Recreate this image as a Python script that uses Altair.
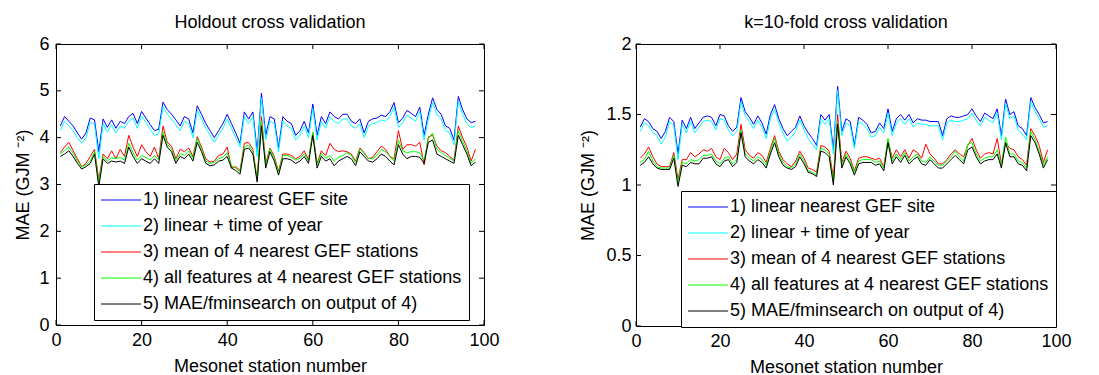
import altair as alt
import pandas as pd

stations = list(range(1, 99))
series_names = [
    "1) linear nearest GEF site",
    "2) linear + time of year",
    "3) mean of 4 nearest GEF stations",
    "4) all features at 4 nearest GEF stations",
    "5) MAE/fminsearch on output of 4)",
]
series_colors = ["#0000ff", "#00ffff", "#ff0000", "#00ff00", "#000000"]

# ---- Holdout cross validation ----
L1 = [4.25, 4.45, 4.35, 4.25, 4.1, 3.97, 4.1, 4.42, 4.38, 3.7,
      4.4, 4.22, 4.38, 4.2, 4.35, 4.3, 4.45, 4.52, 4.3, 4.56,
      4.42, 4.28, 4.15, 4.18, 4.76, 4.6, 4.5, 4.38, 4.25, 4.45,
      4.4, 4.1, 4.68, 4.5, 4.3, 4.15, 4.0, 4.15, 4.3, 4.5,
      4.3, 4.1, 3.88, 4.55, 4.4, 4.55, 3.7, 4.95, 4.05, 4.45,
      4.4, 3.78, 4.45, 4.35, 4.3, 4.05, 4.15, 4.35, 4.1, 4.72,
      4.05, 4.45, 4.3, 4.55, 4.45, 4.4, 4.5, 4.5, 4.35, 4.3,
      4.4, 4.1, 4.35, 4.4, 4.42, 4.48, 4.45, 4.55, 4.75, 4.32,
      4.42, 4.58, 4.52, 4.45, 4.65, 4.05, 4.5, 4.85, 4.6, 4.5,
      4.25, 4.2, 3.95, 4.88, 4.6, 4.4, 4.32, 4.35]
L2 = [4.15, 4.35, 4.25, 4.15, 4.0, 3.88, 4.0, 4.33, 4.28, 3.55,
      4.3, 4.12, 4.28, 4.1, 4.25, 4.2, 4.35, 4.42, 4.2, 4.46,
      4.33, 4.18, 4.05, 4.08, 4.66, 4.5, 4.4, 4.28, 4.15, 4.35,
      4.3, 4.0, 4.58, 4.4, 4.2, 4.05, 3.9, 4.05, 4.2, 4.4,
      4.2, 4.0, 3.8, 4.45, 4.3, 4.45, 3.6, 4.85, 3.95, 4.35,
      4.3, 3.7, 4.35, 4.25, 4.2, 3.95, 4.05, 4.25, 4.0, 4.62,
      3.95, 4.35, 4.2, 4.45, 4.35, 4.3, 4.4, 4.4, 4.25, 4.2,
      4.3, 4.0, 4.25, 4.3, 4.32, 4.38, 4.35, 4.45, 4.65, 4.22,
      4.32, 4.48, 4.42, 4.35, 4.55, 3.95, 4.4, 4.75, 4.5, 4.4,
      4.15, 4.1, 3.85, 4.78, 4.5, 4.3, 4.22, 4.25]
L3 = [3.68, 3.8, 3.9, 3.72, 3.55, 3.38, 3.45, 3.6, 3.75, 3.1,
      3.65, 3.55, 3.72, 3.55, 3.75, 3.6, 4.05, 3.8, 3.6, 3.85,
      3.7, 3.6, 3.8, 3.55, 4.25, 3.9, 3.82, 3.55, 3.75, 3.7,
      3.78, 3.6, 4.02, 3.8, 3.55, 3.48, 3.5, 3.62, 3.65, 3.8,
      3.35, 3.38, 3.3, 3.88, 3.9, 3.75, 3.1, 4.45, 3.45, 3.78,
      3.6, 3.28, 3.65, 3.65, 3.62, 3.55, 3.6, 3.72, 3.52, 4.1,
      3.45, 3.72, 3.62, 3.88, 3.75, 3.7, 3.72, 3.7, 3.65, 3.5,
      3.78, 3.68, 3.55, 3.58, 3.7, 3.82, 3.75, 3.6, 3.55, 4.15,
      3.75, 3.85, 3.85, 3.82, 3.9, 3.42, 4.02, 4.05, 3.82, 3.72,
      3.68, 3.6, 3.52, 4.25, 4.0, 3.8, 3.5, 3.75]
L4 = [3.65, 3.72, 3.8, 3.67, 3.5, 3.37, 3.42, 3.5, 3.7, 3.05,
      3.6, 3.5, 3.57, 3.55, 3.58, 3.52, 3.88, 3.68, 3.52, 3.62,
      3.58, 3.52, 3.62, 3.52, 4.12, 3.86, 3.76, 3.5, 3.66, 3.62,
      3.72, 3.56, 3.98, 3.76, 3.5, 3.45, 3.47, 3.56, 3.58, 3.68,
      3.4, 3.35, 3.27, 3.8, 3.84, 3.7, 3.1, 4.35, 3.42, 3.76,
      3.56, 3.25, 3.62, 3.62, 3.58, 3.52, 3.56, 3.66, 3.5, 4.12,
      3.42, 3.66, 3.56, 3.62, 3.5, 3.58, 3.62, 3.68, 3.62, 3.47,
      3.76, 3.66, 3.56, 3.55, 3.62, 3.75, 3.7, 3.6, 3.5, 3.95,
      3.72, 3.68, 3.7, 3.7, 3.68, 3.52, 3.98, 4.1, 3.75, 3.68,
      3.62, 3.56, 3.5, 4.15, 3.92, 3.72, 3.45, 3.55]
L5 = [3.6, 3.65, 3.72, 3.6, 3.45, 3.33, 3.38, 3.45, 3.65, 2.95,
      3.55, 3.45, 3.5, 3.48, 3.5, 3.45, 3.8, 3.6, 3.45, 3.55,
      3.5, 3.45, 3.55, 3.45, 4.05, 3.8, 3.7, 3.45, 3.6, 3.55,
      3.65, 3.5, 3.9, 3.7, 3.45, 3.4, 3.42, 3.5, 3.52, 3.6,
      3.35, 3.3, 3.22, 3.75, 3.78, 3.65, 3.05, 4.25, 3.35, 3.7,
      3.5, 3.2, 3.55, 3.55, 3.52, 3.45, 3.5, 3.6, 3.45, 4.05,
      3.35, 3.6, 3.5, 3.55, 3.4, 3.5, 3.55, 3.6, 3.55, 3.4,
      3.7, 3.6, 3.5, 3.48, 3.55, 3.65, 3.6, 3.5, 3.42, 3.85,
      3.65, 3.55, 3.6, 3.6, 3.58, 3.45, 3.9, 3.95, 3.65, 3.6,
      3.55, 3.5, 3.45, 4.05, 3.85, 3.65, 3.4, 3.48]

# ---- k=10-fold cross validation ----
R1 = [1.41, 1.47, 1.45, 1.4, 1.38, 1.33, 1.38, 1.48, 1.45, 1.22,
      1.46, 1.4, 1.48, 1.4, 1.44, 1.48, 1.49, 1.48, 1.42, 1.5,
      1.49, 1.42, 1.38, 1.41, 1.62, 1.52, 1.48, 1.43, 1.49, 1.44,
      1.36, 1.5, 1.57, 1.47, 1.4, 1.35, 1.38, 1.41, 1.49, 1.42,
      1.37, 1.33, 1.28, 1.5, 1.46, 1.5, 1.25, 1.7, 1.38, 1.47,
      1.45, 1.28, 1.48, 1.46, 1.43, 1.37, 1.38, 1.44, 1.4, 1.54,
      1.38, 1.47, 1.5, 1.46, 1.5, 1.44, 1.47, 1.46, 1.46, 1.45,
      1.45, 1.45, 1.35, 1.47, 1.49, 1.48, 1.48, 1.49, 1.5, 1.54,
      1.49, 1.45, 1.51, 1.49, 1.47, 1.54, 1.35, 1.61, 1.5, 1.52,
      1.42, 1.4, 1.35, 1.62, 1.55, 1.5, 1.44, 1.45]
R2 = [1.38, 1.44, 1.42, 1.37, 1.35, 1.29, 1.34, 1.45, 1.42, 1.18,
      1.43, 1.37, 1.45, 1.37, 1.41, 1.45, 1.46, 1.45, 1.39, 1.47,
      1.46, 1.39, 1.35, 1.38, 1.59, 1.49, 1.45, 1.4, 1.46, 1.41,
      1.33, 1.47, 1.54, 1.44, 1.37, 1.31, 1.34, 1.38, 1.46, 1.39,
      1.33, 1.29, 1.25, 1.47, 1.43, 1.47, 1.22, 1.67, 1.35, 1.44,
      1.42, 1.26, 1.45, 1.43, 1.4, 1.34, 1.35, 1.41, 1.37, 1.51,
      1.35, 1.44, 1.47, 1.43, 1.47, 1.41, 1.44, 1.43, 1.43, 1.42,
      1.42, 1.42, 1.32, 1.44, 1.46, 1.45, 1.45, 1.46, 1.47, 1.51,
      1.46, 1.42, 1.48, 1.46, 1.44, 1.51, 1.32, 1.58, 1.47, 1.49,
      1.39, 1.36, 1.32, 1.59, 1.52, 1.47, 1.41, 1.42]
R3 = [1.19, 1.22, 1.27, 1.2, 1.15, 1.13, 1.13, 1.13, 1.23, 1.04,
      1.18, 1.18, 1.23, 1.2, 1.22, 1.25, 1.24, 1.26, 1.2, 1.18,
      1.26, 1.23, 1.18, 1.22, 1.43, 1.25, 1.21, 1.19, 1.23, 1.21,
      1.16, 1.26, 1.35, 1.24, 1.18, 1.15, 1.13, 1.17, 1.24, 1.19,
      1.12, 1.11, 1.09, 1.28, 1.27, 1.24, 1.05, 1.5, 1.16, 1.24,
      1.19, 1.1, 1.19, 1.2, 1.2, 1.19, 1.18, 1.19, 1.13, 1.32,
      1.19, 1.25, 1.2, 1.25, 1.19, 1.25, 1.23, 1.19, 1.29, 1.22,
      1.19, 1.15, 1.15, 1.18, 1.22, 1.25, 1.22, 1.2, 1.28, 1.33,
      1.25, 1.19, 1.22, 1.23, 1.22, 1.33, 1.15, 1.3, 1.26, 1.25,
      1.2, 1.18, 1.14, 1.4, 1.35, 1.28, 1.16, 1.25]
R4 = [1.16, 1.18, 1.24, 1.17, 1.13, 1.12, 1.12, 1.12, 1.21, 1.02,
      1.16, 1.15, 1.18, 1.17, 1.18, 1.21, 1.21, 1.22, 1.17, 1.15,
      1.19, 1.2, 1.15, 1.18, 1.39, 1.22, 1.19, 1.17, 1.2, 1.18,
      1.14, 1.24, 1.33, 1.22, 1.16, 1.13, 1.12, 1.15, 1.22, 1.17,
      1.1, 1.09, 1.07, 1.26, 1.25, 1.22, 1.02, 1.45, 1.14, 1.22,
      1.17, 1.09, 1.17, 1.18, 1.18, 1.18, 1.16, 1.17, 1.12, 1.33,
      1.17, 1.22, 1.18, 1.23, 1.17, 1.2, 1.22, 1.17, 1.16, 1.2,
      1.17, 1.14, 1.14, 1.17, 1.2, 1.24, 1.2, 1.17, 1.29, 1.3,
      1.22, 1.17, 1.19, 1.2, 1.2, 1.25, 1.14, 1.34, 1.22, 1.22,
      1.17, 1.16, 1.12, 1.38, 1.32, 1.24, 1.14, 1.2]
R5 = [1.14, 1.16, 1.2, 1.15, 1.12, 1.11, 1.11, 1.11, 1.19, 0.99,
      1.14, 1.13, 1.16, 1.15, 1.15, 1.19, 1.19, 1.2, 1.15, 1.13,
      1.17, 1.18, 1.13, 1.16, 1.37, 1.2, 1.17, 1.15, 1.18, 1.16,
      1.12, 1.22, 1.3, 1.2, 1.14, 1.12, 1.11, 1.13, 1.2, 1.15,
      1.09, 1.08, 1.06, 1.24, 1.23, 1.2, 1.0, 1.43, 1.12, 1.2,
      1.15, 1.07, 1.15, 1.16, 1.16, 1.16, 1.14, 1.15, 1.1, 1.3,
      1.15, 1.2, 1.16, 1.21, 1.15, 1.18, 1.2, 1.15, 1.14, 1.18,
      1.15, 1.12, 1.12, 1.15, 1.18, 1.21, 1.18, 1.15, 1.25, 1.27,
      1.2, 1.15, 1.17, 1.18, 1.18, 1.22, 1.12, 1.3, 1.2, 1.2,
      1.15, 1.14, 1.1, 1.35, 1.3, 1.22, 1.12, 1.18]

x_ticks = [0, 20, 40, 60, 80, 100]
y_ticks_left = [0, 1, 2, 3, 4, 5, 6]
y_ticks_right = [0, 0.5, 1, 1.5, 2]

FONT = "Liberation Sans"
FS = 18
TK = 5


def long_df(series_lists):
    rows = []
    for name, vals in zip(series_names, series_lists):
        for s, v in zip(stations, vals):
            rows.append({"station": s, "series": name, "value": v})
    return pd.DataFrame(rows)


def panel(df, title, ydomain, yticks, W, H, lx, ly, lab_pad, tit_pad):
    xs = alt.Scale(domain=[0, 100], nice=False, zero=False)
    ys = alt.Scale(domain=ydomain, nice=False, zero=False)
    xax = alt.Axis(values=x_ticks, title="Mesonet station number",
                   labelPadding=6, titlePadding=8, format="~r")
    yax = alt.Axis(values=yticks, title="MAE (GJM ⁻²)",
                   labelPadding=lab_pad, titlePadding=tit_pad, format="~r")
    lines = alt.Chart(df).mark_line(strokeWidth=1, clip=True).encode(
        x=alt.X("station:Q", scale=xs, axis=xax),
        y=alt.Y("value:Q", scale=ys, axis=yax),
        color=alt.Color("series:N",
                        scale=alt.Scale(domain=series_names, range=series_colors),
                        legend=alt.Legend(orient="none", legendX=lx, legendY=ly,
                                          title=None, strokeColor="black",
                                          fillColor="white", padding=7,
                                          symbolType="M-4,0L4,0", symbolSize=100,
                                          symbolStrokeWidth=1, symbolOffset=11,
                                          labelFont=FONT, labelFontSize=FS,
                                          labelColor="black", labelLimit=0,
                                          labelOffset=13, rowPadding=8,
                                          cornerRadius=0)),
    )
    xt = pd.DataFrame({"station": x_ticks})
    yt = pd.DataFrame({"value": yticks})
    rule = dict(color="black", strokeWidth=1)
    bx1 = alt.Chart(xt).mark_rule(**rule).encode(
        x=alt.X("station:Q", scale=xs, axis=xax), y=alt.value(H), y2=alt.value(H - TK))
    bx2 = alt.Chart(xt).mark_rule(**rule).encode(
        x=alt.X("station:Q", scale=xs, axis=xax), y=alt.value(0), y2=alt.value(TK))
    by1 = alt.Chart(yt).mark_rule(**rule).encode(
        y=alt.Y("value:Q", scale=ys, axis=yax), x=alt.value(0), x2=alt.value(TK))
    by2 = alt.Chart(yt).mark_rule(**rule).encode(
        y=alt.Y("value:Q", scale=ys, axis=yax), x=alt.value(W - TK), x2=alt.value(W))
    return alt.layer(lines, bx1, bx2, by1, by2).properties(
        width=W, height=H,
        title=alt.TitleParams(title, baseline="alphabetic", offset=-11,
                              font=FONT, fontSize=FS, fontWeight="normal",
                              color="black"))


left = panel(long_df([L1, L2, L3, L4, L5]), "Holdout cross validation",
             [0, 6], y_ticks_left, 428, 281, 38, 140, 7, 6)
right = panel(long_df([R1, R2, R3, R4, R5]), "k=10-fold cross validation",
              [0, 2], y_ticks_right, 420, 282, 45, 147, 5, 8)

chart = alt.hconcat(left, right, spacing=79).resolve_scale(
    x="independent", y="independent", color="independent"
).resolve_legend(color="independent").properties(
    padding={"left": 6, "top": 5, "right": 5, "bottom": 0},
    background="white",
).configure(font=FONT).configure_view(
    stroke="black", strokeWidth=1
).configure_axis(
    grid=False, domain=False, ticks=False, labelFont=FONT, titleFont=FONT,
    labelFontSize=FS, titleFontSize=FS, labelColor="black", titleColor="black",
    titleFontWeight="normal", labelFlush=False, labelOverlap=False,
)

chart.save("out.html", embed_options={"renderer": "svg", "actions": False})
